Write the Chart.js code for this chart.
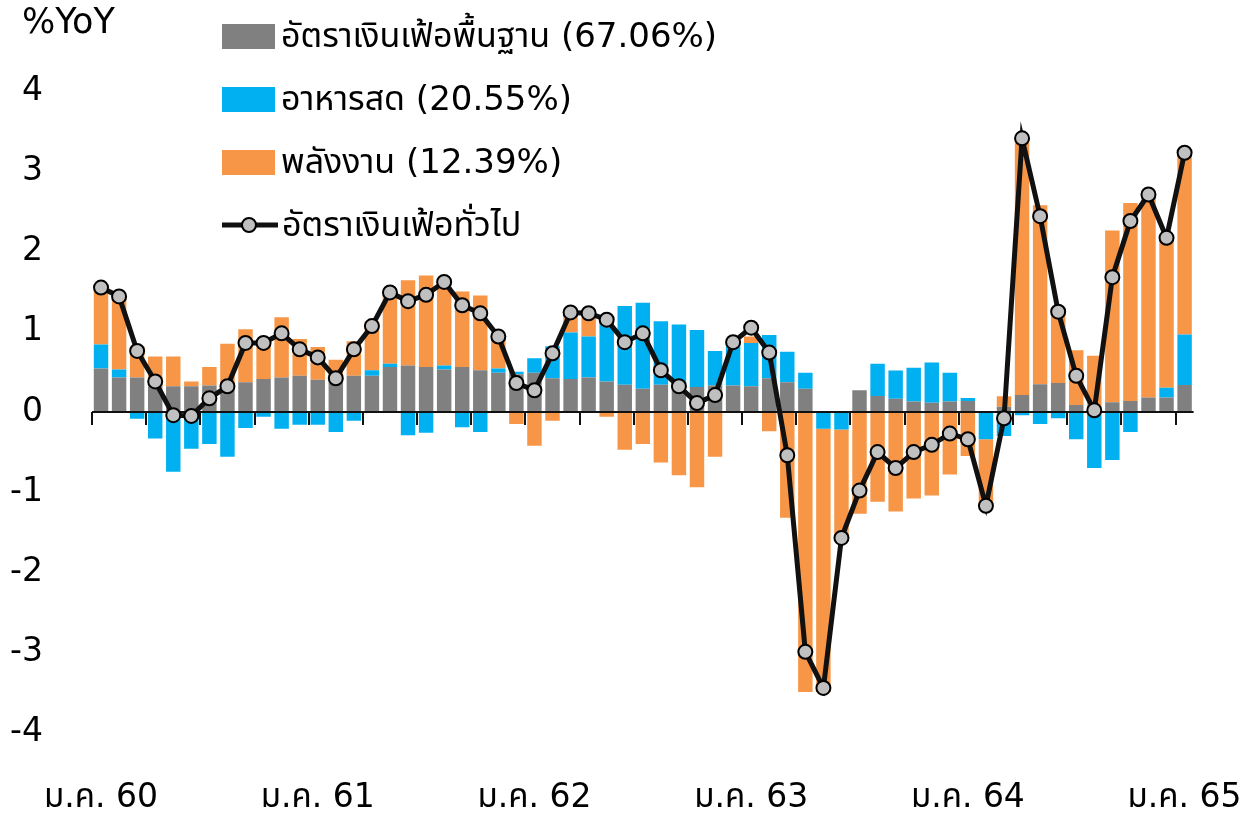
<!DOCTYPE html>
<html>
<head>
<meta charset="utf-8">
<script src="https://cdn.jsdelivr.net/npm/chart.js@4.4.1/dist/chart.umd.min.js"></script>
<style>
  html, body { margin: 0; padding: 0; background: #fff; }
  #wrap { position: relative; width: 1248px; height: 816px; }
  #unit { position: absolute; left: 22px; top: 1px; font: 35px 'DejaVu Sans', sans-serif; color: #000; }
  .leg { position: absolute; left: 222px; height: 40px; display: flex; align-items: center;
         font: 34px 'DejaVu Sans', 'Noto Sans Thai', sans-serif; color: #000; white-space: nowrap; }
  .leg .box { width: 53px; height: 25px; margin-right: 6px; }
  .leg svg { margin-right: 4px; }
</style>
</head>
<body>
<div id="wrap">
  <canvas id="cpiChart" width="1248" height="816"></canvas>
  <div id="unit">%YoY</div>
  <div class="leg" style="top:16px"><div class="box" style="background:#808080"></div>อัตราเงินเฟ้อพื้นฐาน (67.06%)</div>
  <div class="leg" style="top:79px"><div class="box" style="background:#00B0F0"></div>อาหารสด (20.55%)</div>
  <div class="leg" style="top:142px"><div class="box" style="background:#F79646"></div>พลังงาน (12.39%)</div>
  <div class="leg" style="top:205px"><svg width="56" height="20"><line x1="0" y1="10" x2="56" y2="10" stroke="#111" stroke-width="5"/><circle cx="27" cy="10" r="7" fill="#C0C0C0" stroke="#000" stroke-width="2"/></svg>อัตราเงินเฟ้อทั่วไป</div>
</div>

<script>
// Thai month abbreviations and Buddhist-era years (2 digits)
const monthNames = ["ม.ค.","ก.พ.","มี.ค.","เม.ย.","พ.ค.","มิ.ย.","ก.ค.","ส.ค.","ก.ย.","ต.ค.","พ.ย.","ธ.ค."];
const years = [60, 61, 62, 63, 64, 65];
const tickLabels = ["ม.ค. 60","ม.ค. 61","ม.ค. 62","ม.ค. 63","ม.ค. 64","ม.ค. 65"];

// contribution to headline inflation, %YoY
const coreData = [0.54,0.43,0.43,0.32,0.32,0.32,0.33,0.33,0.37,0.41,0.43,0.45,
                  0.40,0.40,0.45,0.45,0.56,0.58,0.56,0.53,0.56,0.52,0.49,0.47,
                  0.49,0.42,0.41,0.43,0.38,0.34,0.29,0.34,0.33,0.31,0.33,0.33,
                  0.32,0.42,0.37,0.29,0.01,0.00,0.27,0.20,0.165,0.13,0.115,0.13,
                  0.135,0.00,0.065,0.21,0.345,0.36,0.085,0.02,0.12,0.135,0.18,0.18,
                  0.335];
const foodData = [0.30,0.10,-0.085,-0.33,-0.745,-0.46,-0.40,-0.56,-0.20,-0.06,-0.21,-0.16,
                  -0.16,-0.25,-0.11,0.07,0.04,-0.29,-0.26,0.05,-0.19,-0.25,0.05,0.03,
                  0.18,0.40,0.58,0.51,0.81,0.98,1.07,0.79,0.76,0.71,0.43,0.53,
                  0.54,0.54,0.38,0.20,-0.21,-0.22,0.00,0.40,0.35,0.42,0.50,0.36,
                  0.04,-0.34,-0.30,-0.04,-0.15,-0.08,-0.34,-0.70,-0.60,-0.25,0.00,0.12,
                  0.63];
const energyData = [0.66,0.95,0.39,0.37,0.37,0.06,0.23,0.52,0.66,0.50,0.75,0.46,
                    0.41,0.25,0.43,0.61,0.88,1.06,1.14,1.05,0.94,0.93,0.38,-0.15,
                    -0.42,-0.11,0.28,0.30,-0.06,-0.47,-0.40,-0.63,-0.79,-0.94,-0.56,0.01,
                    0.08,-0.24,-1.32,-3.49,-3.28,-1.36,-1.27,-1.12,-1.24,-1.08,-1.04,-0.78,
                    -0.55,-0.83,0.13,3.20,2.23,0.95,0.685,0.68,2.14,2.47,2.49,1.87,
                    2.24];
const headlineData = [1.55,1.44,0.76,0.38,-0.04,-0.05,0.17,0.32,0.86,0.86,0.98,0.78,
                      0.68,0.42,0.78,1.07,1.49,1.38,1.46,1.62,1.33,1.23,0.94,0.36,
                      0.27,0.73,1.24,1.23,1.15,0.87,0.98,0.52,0.32,0.11,0.21,0.87,
                      1.05,0.74,-0.54,-2.99,-3.44,-1.57,-0.98,-0.50,-0.70,-0.50,-0.41,-0.27,
                      -0.34,-1.17,-0.08,3.41,2.44,1.25,0.45,0.02,1.68,2.38,2.71,2.17,
                      3.23];

const labels = [];
years.forEach(y => {
    monthNames.forEach(m => labels.push(m + " " + y));
});
labels.length = headlineData.length;

const tickFont = { family: "'DejaVu Sans', 'Noto Sans Thai', sans-serif", size: 33 };

// zero line and quarterly tick marks, drawn after the bars but under the line
const zeroAxis = {
    id: 'zeroAxis',
    afterDatasetDraw(chart, args) {
        if (args.index !== 0) return;
        const ctx = chart.ctx;
        const x = chart.scales.x;
        const y0 = chart.scales.y.getPixelForValue(0);
        const half = (x.getPixelForValue(1) - x.getPixelForValue(0)) / 2;
        ctx.save();
        ctx.strokeStyle = '#111';
        ctx.lineWidth = 2;
        ctx.beginPath();
        ctx.moveTo(chart.chartArea.left, y0);
        ctx.lineTo(chart.chartArea.right, y0);
        for (let i = 0; i <= labels.length - 1; i += 3) {
            const px = Math.round(x.getPixelForValue(i) - half);
            ctx.moveTo(px, y0);
            ctx.lineTo(px, y0 + 13);
        }
        ctx.stroke();
        ctx.restore();
    }
};

const barStyle = { barPercentage: 0.8, categoryPercentage: 1.0, borderWidth: 0, order: 1, stack: 'cpi' };

new Chart(document.getElementById('cpiChart'), {
    type: 'bar',
    data: {
        labels: labels,
        datasets: [
            Object.assign({ label: 'อัตราเงินเฟ้อพื้นฐาน (67.06%)', data: coreData, backgroundColor: '#808080' }, barStyle),
            Object.assign({ label: 'อาหารสด (20.55%)', data: foodData, backgroundColor: '#00B0F0' }, barStyle),
            Object.assign({ label: 'พลังงาน (12.39%)', data: energyData, backgroundColor: '#F79646' }, barStyle),
            {
                type: 'line',
                label: 'อัตราเงินเฟ้อทั่วไป',
                data: headlineData,
                stack: 'headline',
                order: 0,
                borderColor: '#111',
                borderWidth: 5,
                pointRadius: 7,
                pointBackgroundColor: '#C0C0C0',
                pointBorderColor: '#000',
                pointBorderWidth: 2,
                tension: 0
            }
        ]
    },
    options: {
        responsive: false,
        devicePixelRatio: 1,
        animation: false,
        layout: { padding: { left: 0, right: 51, top: 91, bottom: 0 } },
        plugins: {
            legend: { display: false },
            tooltip: { enabled: false }
        },
        scales: {
            x: {
                stacked: true,
                offset: true,
                afterFit: s => { s.height = 43; },
                grid: { display: false, drawTicks: false },
                border: { display: false },
                ticks: {
                    autoSkip: false,
                    maxRotation: 0,
                    padding: 6,
                    color: '#000',
                    font: tickFont,
                    callback: function(v, i) {
                        return i % 12 === 0 ? tickLabels[i / 12] : '';
                    }
                }
            },
            y: {
                stacked: true,
                min: -4.5,
                max: 4,
                afterFit: s => { s.width = 92; s.paddingTop = 0; s.paddingBottom = 0; },
                afterBuildTicks: s => { s.ticks = s.ticks.filter(t => Number.isInteger(t.value)); },
                grid: { display: false, drawTicks: false },
                border: { display: false },
                ticks: {
                    stepSize: 1,
                    padding: 49,
                    color: '#000',
                    font: tickFont
                }
            }
        }
    },
    plugins: [zeroAxis]
});
</script>
</body>
</html>
